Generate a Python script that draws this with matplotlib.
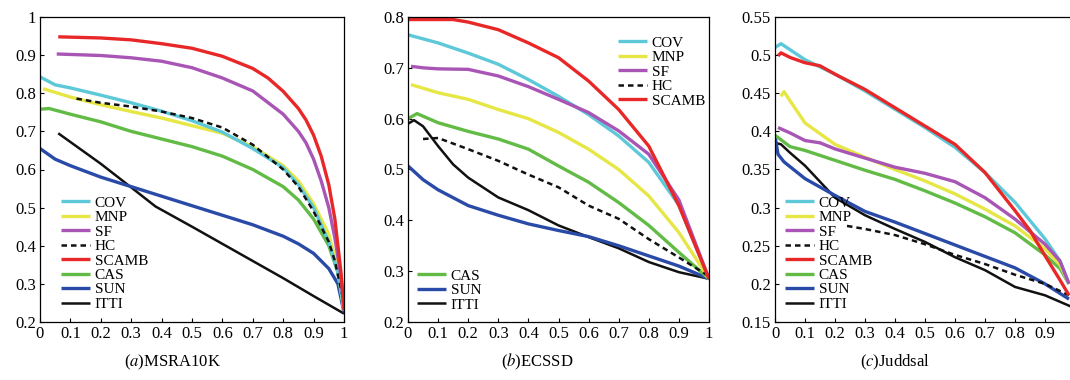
import matplotlib
matplotlib.use("Agg")
import matplotlib.pyplot as plt
import numpy as np

plt.rcParams['font.family'] = ['Liberation Serif', 'DejaVu Serif']
plt.rcParams['mathtext.fontset'] = 'stix'

methods = ["COV", "MNP", "SF", "HC", "SCAMB", "CAS", "SUN", "ITTI"]
colors = {"COV": "#5cc8d8", "MNP": "#e6e645", "SF": "#a855b5", "HC": "#111111",
          "SCAMB": "#e82828", "CAS": "#62bb45", "SUN": "#2a4aa8", "ITTI": "#111111"}

# ---------------- (a) MSRA10K ----------------
a_x = {
    "SCAMB": [0.06, 0.2, 0.3, 0.4, 0.5, 0.6, 0.7, 0.75, 0.8, 0.85, 0.875, 0.9, 0.925, 0.95, 0.97, 0.99, 1.0],
    "SF":    [0.055, 0.2, 0.3, 0.4, 0.5, 0.6, 0.7, 0.8, 0.85, 0.875, 0.9, 0.925, 0.95, 0.97, 0.99, 1.0],
    "COV":   [0.0, 0.05, 0.1, 0.2, 0.3, 0.4, 0.5, 0.6, 0.7, 0.8, 0.85, 0.9, 0.95, 0.98, 1.0],
    "MNP":   [0.01, 0.1, 0.2, 0.3, 0.4, 0.5, 0.6, 0.7, 0.8, 0.85, 0.9, 0.95, 0.98, 1.0],
    "HC":    [0.12, 0.2, 0.3, 0.4, 0.5, 0.6, 0.7, 0.8, 0.85, 0.9, 0.95, 0.97, 1.0],
    "CAS":   [0.0, 0.03, 0.1, 0.2, 0.3, 0.4, 0.5, 0.6, 0.7, 0.8, 0.85, 0.9, 0.95, 0.98, 1.0],
    "SUN":   [0.0, 0.05, 0.1, 0.2, 0.3, 0.4, 0.5, 0.6, 0.7, 0.8, 0.85, 0.9, 0.95, 0.98, 1.0],
    "ITTI":  [0.06, 0.2, 0.3, 0.38, 0.5, 0.6, 0.7, 0.8, 0.9, 1.0],
}
a_y = {
    "SCAMB": [0.948, 0.945, 0.94, 0.93, 0.918, 0.897, 0.865, 0.84, 0.805, 0.76, 0.73, 0.69, 0.635, 0.56, 0.47, 0.33, 0.23],
    "SF":    [0.903, 0.899, 0.893, 0.884, 0.867, 0.84, 0.806, 0.745, 0.70, 0.67, 0.627, 0.57, 0.50, 0.42, 0.32, 0.24],
    "COV":   [0.843, 0.822, 0.814, 0.795, 0.775, 0.753, 0.728, 0.698, 0.655, 0.605, 0.56, 0.50, 0.41, 0.33, 0.23],
    "MNP":   [0.812, 0.79, 0.77, 0.752, 0.735, 0.715, 0.695, 0.66, 0.61, 0.57, 0.51, 0.43, 0.34, 0.23],
    "HC":    [0.786, 0.775, 0.765, 0.752, 0.735, 0.71, 0.665, 0.60, 0.555, 0.49, 0.41, 0.36, 0.25],
    "CAS":   [0.758, 0.76, 0.745, 0.725, 0.70, 0.68, 0.66, 0.635, 0.60, 0.555, 0.52, 0.47, 0.40, 0.33, 0.23],
    "SUN":   [0.655, 0.627, 0.61, 0.58, 0.555, 0.53, 0.505, 0.48, 0.455, 0.425, 0.405, 0.38, 0.34, 0.30, 0.225],
    "ITTI":  [0.695, 0.615, 0.553, 0.503, 0.45, 0.405, 0.36, 0.315, 0.268, 0.222],
}

# ---------------- (b) ECSSD ----------------
b_x = {
    "SCAMB": [0.0, 0.15, 0.2, 0.3, 0.4, 0.5, 0.6, 0.7, 0.8, 0.9, 1.0],
    "COV":   [0.0, 0.05, 0.1, 0.2, 0.3, 0.4, 0.5, 0.6, 0.7, 0.8, 0.9, 1.0],
    "SF":    [0.01, 0.05, 0.1, 0.2, 0.3, 0.4, 0.5, 0.6, 0.7, 0.8, 0.9, 1.0],
    "MNP":   [0.01, 0.1, 0.2, 0.3, 0.4, 0.5, 0.6, 0.7, 0.8, 0.9, 1.0],
    "CAS":   [0.0, 0.03, 0.1, 0.2, 0.3, 0.4, 0.5, 0.6, 0.7, 0.8, 0.9, 1.0],
    "HC":    [0.05, 0.1, 0.2, 0.3, 0.4, 0.5, 0.6, 0.7, 0.8, 0.9, 1.0],
    "ITTI":  [0.0, 0.02, 0.05, 0.1, 0.15, 0.2, 0.3, 0.4, 0.5, 0.6, 0.7, 0.8, 0.9, 1.0],
    "SUN":   [0.0, 0.05, 0.1, 0.2, 0.3, 0.4, 0.5, 0.6, 0.7, 0.8, 0.9, 1.0],
}
b_y = {
    "SCAMB": [0.795, 0.795, 0.79, 0.775, 0.749, 0.72, 0.674, 0.618, 0.546, 0.429, 0.285],
    "COV":   [0.765, 0.757, 0.749, 0.729, 0.707, 0.677, 0.644, 0.608, 0.566, 0.514, 0.43, 0.285],
    "SF":    [0.703, 0.70, 0.698, 0.697, 0.684, 0.663, 0.638, 0.612, 0.576, 0.53, 0.44, 0.285],
    "MNP":   [0.667, 0.651, 0.638, 0.618, 0.60, 0.573, 0.54, 0.50, 0.448, 0.376, 0.285],
    "CAS":   [0.60, 0.61, 0.592, 0.575, 0.56, 0.54, 0.507, 0.475, 0.435, 0.39, 0.337, 0.285],
    "HC":    [0.56, 0.562, 0.54, 0.517, 0.49, 0.465, 0.429, 0.403, 0.363, 0.327, 0.29],
    "ITTI":  [0.59, 0.597, 0.585, 0.546, 0.51, 0.484, 0.445, 0.42, 0.39, 0.367, 0.345, 0.318, 0.298, 0.285],
    "SUN":   [0.507, 0.48, 0.46, 0.429, 0.41, 0.393, 0.38, 0.368, 0.35, 0.33, 0.31, 0.285],
}

# ---------------- (c) Juddsal ----------------
c_x = {
    "COV":   [0.0, 0.02, 0.1, 0.2, 0.3, 0.4, 0.5, 0.6, 0.7, 0.8, 0.9, 0.95, 0.98],
    "SCAMB": [0.01, 0.02, 0.05, 0.1, 0.15, 0.2, 0.3, 0.4, 0.5, 0.6, 0.7, 0.8, 0.85, 0.9, 0.95, 0.98],
    "MNP":   [0.02, 0.03, 0.1, 0.2, 0.3, 0.4, 0.5, 0.6, 0.7, 0.8, 0.9, 0.95, 0.98],
    "SF":    [0.01, 0.05, 0.1, 0.15, 0.2, 0.3, 0.4, 0.5, 0.6, 0.7, 0.8, 0.9, 0.95, 0.98],
    "CAS":   [0.0, 0.05, 0.1, 0.2, 0.3, 0.4, 0.5, 0.6, 0.7, 0.8, 0.9, 0.95, 0.98],
    "SUN":   [0.0, 0.01, 0.03, 0.1, 0.2, 0.3, 0.4, 0.5, 0.6, 0.7, 0.8, 0.9, 0.98],
    "HC":    [0.24, 0.3, 0.4, 0.5, 0.6, 0.7, 0.8, 0.9, 0.98],
    "ITTI":  [0.0, 0.02, 0.05, 0.1, 0.2, 0.3, 0.4, 0.5, 0.6, 0.7, 0.8, 0.9, 1.0],
}
c_y = {
    "COV":   [0.51, 0.515, 0.494, 0.475, 0.453, 0.429, 0.405, 0.379, 0.346, 0.307, 0.259, 0.23, 0.20],
    "SCAMB": [0.499, 0.503, 0.497, 0.49, 0.486, 0.475, 0.455, 0.431, 0.407, 0.383, 0.346, 0.296, 0.27, 0.237, 0.205, 0.185],
    "MNP":   [0.446, 0.452, 0.411, 0.383, 0.366, 0.35, 0.335, 0.318, 0.298, 0.276, 0.246, 0.225, 0.20],
    "SF":    [0.405, 0.398, 0.388, 0.385, 0.377, 0.365, 0.353, 0.345, 0.334, 0.313, 0.285, 0.252, 0.23, 0.20],
    "CAS":   [0.395, 0.38, 0.375, 0.362, 0.349, 0.337, 0.322, 0.306, 0.288, 0.267, 0.238, 0.22, 0.20],
    "SUN":   [0.394, 0.37, 0.36, 0.338, 0.316, 0.295, 0.281, 0.266, 0.251, 0.236, 0.221, 0.2, 0.18],
    "HC":    [0.276, 0.272, 0.264, 0.252, 0.238, 0.226, 0.212, 0.2, 0.185],
    "ITTI":  [0.385, 0.383, 0.372, 0.355, 0.313, 0.29, 0.272, 0.255, 0.235, 0.218, 0.196, 0.185, 0.168],
}

captions = ["a", "b", "c"]
caption_names = ["MSRA10K", "ECSSD", "Juddsal"]

W, H = 1070, 380
fig = plt.figure(figsize=(W / 100, H / 100), dpi=100)


def px_axes(l, r, t, b):
    return fig.add_axes([l / W, 1 - b / H, (r - l) / W, (b - t) / H])


def draw(ax, xs, ys, order, lw=2.4):
    handles = {}
    for m in order:
        ls = (0, (2.2, 1.6)) if m == "HC" else "-"
        lwm = 1.8 if m in ("HC", "ITTI") else lw
        h, = ax.plot(xs[m], ys[m], color=colors[m], lw=lwm, ls=ls,
                     solid_capstyle="butt", solid_joinstyle="round", label=m)
        handles[m] = h
    return handles


def style(ax, ylim, yticks, ylabels):
    ax.set_xlim(0, 1)
    ax.set_ylim(*ylim)
    ax.set_xticks(np.arange(0, 1.01, 0.1))
    ax.set_xticklabels(["0", "0.1", "0.2", "0.3", "0.4", "0.5", "0.6", "0.7", "0.8", "0.9", "1"])
    ax.set_yticks(yticks)
    ax.set_yticklabels(ylabels)
    ax.tick_params(direction="in", length=3, width=0.8, labelsize=12, pad=3)
    for s in ax.spines.values():
        s.set_linewidth(0.9)


def leg(ax, handles, names, x, y):
    ax.legend([handles[n] for n in names], names, loc="upper left",
              bbox_to_anchor=(x / W, 1 - y / H), bbox_transform=fig.transFigure,
              frameon=False, fontsize=11, handlelength=1.9, handletextpad=0.3,
              labelspacing=0.05, borderpad=0, borderaxespad=0, handleheight=0.7)


order = ["ITTI", "SUN", "CAS", "MNP", "COV", "HC", "SF", "SCAMB"]

# (a)
ax1 = px_axes(40, 344, 17, 322)
h1 = draw(ax1, a_x, a_y, order)
style(ax1, (0.2, 1.0), np.arange(0.2, 1.01, 0.1),
      ["0.2", "0.3", "0.4", "0.5", "0.6", "0.7", "0.8", "0.9", "1"])
leg(ax1, h1, methods, 61, 196)

# (b)
ax2 = px_axes(408, 709, 17, 322)
h2 = draw(ax2, b_x, b_y, order)
style(ax2, (0.2, 0.8), np.arange(0.2, 0.81, 0.1),
      ["0.2", "0.3", "0.4", "0.5", "0.6", "0.7", "0.8"])
leg(ax2, h2, ["COV", "MNP", "SF", "HC", "SCAMB"], 618, 36)
l2 = ax2.get_legend()
ax2.add_artist(l2)
leg(ax2, h2, ["CAS", "SUN", "ITTI"], 417, 269)

# (c)
ax3 = px_axes(775, 1075, 17, 322)
h3 = draw(ax3, c_x, c_y, order)
style(ax3, (0.15, 0.55), np.arange(0.15, 0.551, 0.05),
      ["0.15", "0.2", "0.25", "0.3", "0.35", "0.4", "0.45", "0.5", "0.55"])
ax3.set_xticks(np.arange(0, 0.91, 0.1))
ax3.set_xticklabels(["0", "0.1", "0.2", "0.3", "0.4", "0.5", "0.6", "0.7", "0.8", "0.9"])
leg(ax3, h3, methods, 785, 196)

cap_x = [173, 537, 895]
for cx, c, n in zip(cap_x, captions, caption_names):
    fig.text(cx / W, 1 - 362 / H, r"($\it{" + c + r"}$)" + n, ha="center", va="center",
             fontsize=12)

fig.savefig("out.png", dpi=100)
